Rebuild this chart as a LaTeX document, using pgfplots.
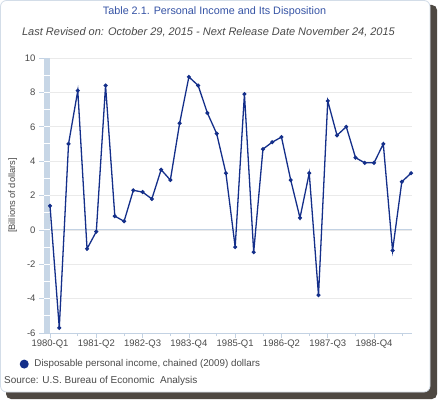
\documentclass[border=0pt]{standalone}
\usepackage{pgfplots}
\pgfplotsset{compat=1.18}
\usepackage{fontspec}
\setmainfont{Liberation Sans}
\definecolor{navy}{HTML}{142F8A}
\definecolor{titleblue}{HTML}{3553A5}
\definecolor{axisblue}{HTML}{C3D2E3}
\definecolor{bandblue}{HTML}{C7D6E6}
\definecolor{gridgray}{HTML}{EAEAEA}
\definecolor{textgray}{HTML}{4A4A4A}
\definecolor{shadow}{HTML}{4E4842}
\definecolor{cardedge}{HTML}{D3DDE8}
\pgfplotstableread{
i v
0 1.4
1 -5.7
2 5.0
3 8.1
4 -1.1
5 -0.1
6 8.4
7 0.8
8 0.5
9 2.3
10 2.2
11 1.8
12 3.5
13 2.9
14 6.2
15 8.9
16 8.4
17 6.8
18 5.6
19 3.3
20 -1.0
21 7.9
22 -1.3
23 4.7
24 5.1
25 5.4
26 2.9
27 0.7
28 3.3
29 -3.8
30 7.5
31 5.5
32 6.0
33 4.2
34 3.9
35 3.9
36 5.0
37 -1.2
38 2.8
39 3.3
}\dpi
\begin{document}
\begin{tikzpicture}[x=1pt,y=1pt]
% background and card
\fill[white] (0,0) rectangle (439,399);
\fill[shadow, rounded corners=5pt] (6,0) rectangle (437,394);
\fill[white, draw=cardedge, line width=0.8pt, rounded corners=6pt] (0.5,7) rectangle (430,398.5);
\node[text=titleblue, font=\fontsize{10.8}{12}\selectfont] at (214.5,387) {Table 2.1. Personal Income and Its Disposition};
\node[text=textgray, font=\fontsize{11}{13}\selectfont\itshape] at (208.5,367) {Last Revised on: October 29, 2015 - Next Release Date November 24, 2015};
\node[text=textgray, anchor=west, font=\fontsize{10}{11}\selectfont, inner sep=0pt] at (4,18) {Source: U.S. Bureau of Economic\ \ Analysis};
\begin{axis}[
  at={(44pt,66pt)}, anchor=south west,
  scale only axis, width=368pt, height=275pt,
  xmin=-0.65, xmax=39.1, ymin=-6, ymax=10,
  ytick={-6,-4,...,10},
  xtick={0,5,...,35},
  xticklabels={1980-Q1,1981-Q2,1982-Q3,1983-Q4,1985-Q1,1986-Q2,1987-Q3,1988-Q4},
  minor xtick={3,8,...,38},
  ymajorgrids, grid style={gridgray, line width=0.6pt},
  separate axis lines,
  axis x line*=bottom, axis y line*=left,
  y axis line style={draw=none},
  x axis line style={draw=axisblue, line width=0.8pt},
  tick style={axisblue, line width=0.6pt},
  tick align=outside,
  major tick length=5pt, minor tick length=3pt,
  tick label style={text=textgray, font=\fontsize{9.5}{11}\selectfont},
  x tick label style={yshift=2pt},
  /pgf/number format/assume math mode=true,
  ylabel={[Billions of dollars]},
  ylabel style={text=textgray, font=\fontsize{9.3}{11}\selectfont, yshift=1pt},
  legend style={draw=none, fill=none, at={(-0.0745,-0.113)}, anchor=west, font=\fontsize{9.8}{11}\selectfont, text=textgray},
  legend image code/.code={\fill[navy] (3.8pt,0) circle (3.8pt); \path[draw=none, fill=none] (0,-0.1pt) rectangle (12pt,0.1pt);},
  clip=false,
]
\fill[bandblue] (axis cs:-0.65,-6) rectangle (axis cs:-0.03,10);
\pgfplotsinvokeforeach{-5,...,9}{\draw[white, line width=0.9pt] (axis cs:-0.65,#1) -- (axis cs:-0.03,#1);}
\draw[axisblue, line width=1pt] (axis cs:-0.03,0) -- (axis cs:39.1,0);
\addplot[navy, line width=1.3pt, mark=*, mark size=1.3pt, mark options={fill=navy}] table[x=i, y=v] {\dpi};
\addlegendentry{Disposable personal income, chained (2009) dollars}
\end{axis}
\end{tikzpicture}
\end{document}
